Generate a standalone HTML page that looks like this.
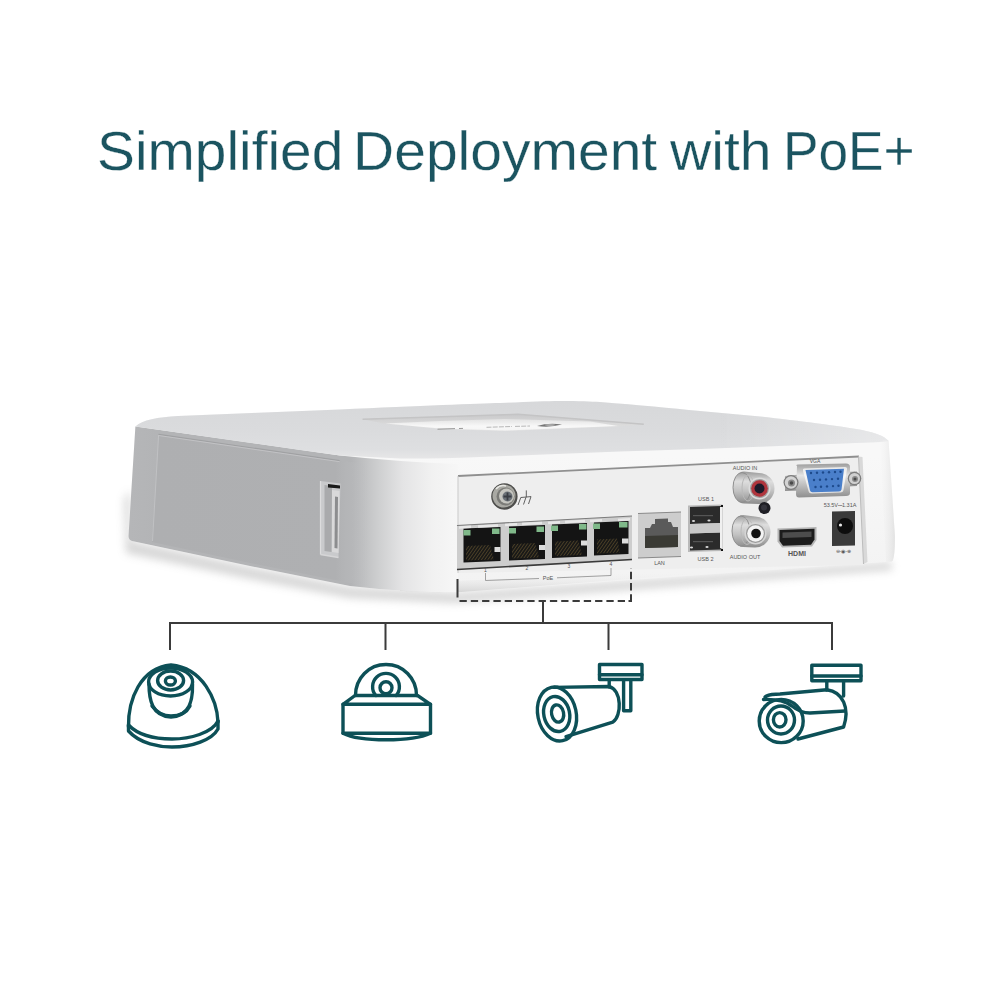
<!DOCTYPE html>
<html><head><meta charset="utf-8">
<style>
html,body{margin:0;padding:0;background:#fff;width:1000px;height:1000px;overflow:hidden}
#title{position:absolute;left:0;top:0;width:1000px;height:1000px}
.t{position:absolute;top:115.8px;font-family:"Liberation Sans",sans-serif;font-size:56.4px;color:#1b5460;white-space:nowrap;line-height:70px;transform-origin:0 0;-webkit-text-stroke:0.3px #ffffff}
svg{position:absolute;left:0;top:0}
</style></head><body>
<div class="t" style="left:97px;transform:scaleX(1.0076)">Simplified</div>
<div class="t" style="left:353.2px;transform:scaleX(1.011)">Deployment</div>
<div class="t" style="left:670px;transform:scaleX(1.0125)">with</div>
<div class="t" style="left:782.6px;transform:scaleX(0.944)">PoE+</div>
<svg width="1000" height="1000" viewBox="0 0 1000 1000">
<defs>
  <linearGradient id="gLeft" x1="130" y1="0" x2="460" y2="0" gradientUnits="userSpaceOnUse">
    <stop offset="0" stop-color="#b5b6b8"/>
    <stop offset="0.08" stop-color="#b3b4b6"/>
    <stop offset="0.67" stop-color="#b3b4b6"/>
    <stop offset="0.75" stop-color="#cdcecf"/>
    <stop offset="0.827" stop-color="#e4e4e5"/>
    <stop offset="0.915" stop-color="#f1f1f1"/>
    <stop offset="1" stop-color="#f7f7f7"/>
  </linearGradient>
  <linearGradient id="gTop" x1="0" y1="402" x2="0" y2="458" gradientUnits="userSpaceOnUse">
    <stop offset="0" stop-color="#d7d8da"/>
    <stop offset="0.5" stop-color="#dadbdd"/>
    <stop offset="0.85" stop-color="#dedfe1"/>
    <stop offset="1" stop-color="#e6e6e7"/>
  </linearGradient>
  <linearGradient id="gTopR" x1="720" y1="0" x2="890" y2="0" gradientUnits="userSpaceOnUse">
    <stop offset="0" stop-color="#ffffff" stop-opacity="0"/>
    <stop offset="1" stop-color="#ffffff" stop-opacity="0.35"/>
  </linearGradient>
  <linearGradient id="gBack" x1="0" y1="455" x2="0" y2="595" gradientUnits="userSpaceOnUse">
    <stop offset="0" stop-color="#f8f8f8"/>
    <stop offset="1" stop-color="#f2f2f2"/>
  </linearGradient>
  <linearGradient id="gBot" x1="0" y1="572" x2="0" y2="592" gradientUnits="userSpaceOnUse">
    <stop offset="0" stop-color="#f4f4f4" stop-opacity="0"/>
    <stop offset="1" stop-color="#d6d6d6"/>
  </linearGradient>
  <linearGradient id="gPanel" x1="158" y1="0" x2="380" y2="0" gradientUnits="userSpaceOnUse">
    <stop offset="0" stop-color="#aeafb1"/>
    <stop offset="0.8" stop-color="#afb0b2"/>
    <stop offset="0.95" stop-color="#c0c1c3" stop-opacity="0"/>
  </linearGradient>
  <linearGradient id="gRec" x1="0" y1="414" x2="0" y2="431" gradientUnits="userSpaceOnUse">
    <stop offset="0" stop-color="#c9c9ca"/>
    <stop offset="1" stop-color="#e4e4e4"/>
  </linearGradient>
  <linearGradient id="gRecW" x1="0" y1="419" x2="0" y2="431" gradientUnits="userSpaceOnUse">
    <stop offset="0" stop-color="#e2e2e2"/>
    <stop offset="0.6" stop-color="#f8f8f8"/>
    <stop offset="1" stop-color="#f4f4f4"/>
  </linearGradient>
  <pattern id="pins" width="2.6" height="6" patternUnits="userSpaceOnUse" patternTransform="rotate(35)">
    <rect width="2.6" height="6" fill="#1a1a18"/>
    <rect width="0.9" height="6" fill="#5e4f2e"/>
  </pattern>
  <linearGradient id="gMetal" x1="0" y1="0" x2="0" y2="1">
    <stop offset="0" stop-color="#9a9a9a"/>
    <stop offset="0.3" stop-color="#dedede"/>
    <stop offset="0.6" stop-color="#c2c2c2"/>
    <stop offset="1" stop-color="#8c8c8c"/>
  </linearGradient>
  <linearGradient id="gMetalV" x1="0" y1="0" x2="0" y2="1">
    <stop offset="0" stop-color="#9c9c9c"/>
    <stop offset="0.35" stop-color="#e4e4e4"/>
    <stop offset="1" stop-color="#8e8e8e"/>
  </linearGradient>
  <linearGradient id="gRight" x1="878" y1="0" x2="895" y2="0" gradientUnits="userSpaceOnUse">
    <stop offset="0" stop-color="#f7f7f7" stop-opacity="0"/>
    <stop offset="1" stop-color="#e2e2e2"/>
  </linearGradient>
  <filter id="blur1" x="-5%" y="-20%" width="110%" height="140%"><feGaussianBlur stdDeviation="1.2"/></filter>
  <filter id="blur05" x="-5%" y="-50%" width="110%" height="200%"><feGaussianBlur stdDeviation="0.6"/></filter>
  <filter id="blur4" x="-20%" y="-50%" width="140%" height="200%"><feGaussianBlur stdDeviation="4"/></filter>
</defs>
<!-- shadow -->
<path d="M130 490 L131 541 L250 567 L350 587 L455 593 L892 562 L892 570 L455 603 L350 598 L250 579 L126 553 L124 500 Z" fill="#9a9a9a" opacity="0.4" filter="url(#blur4)"/>
<!-- device silhouette -->
<path d="M135.4 426.4 C142 420 158 417 178 416 L340 409.4 C420 406 480 403.5 500 403 C530 402 545 401 560 401 C580 401 590 401.5 600 402 C640 405 670 408 700 411 L760 416.5 C800 421 840 426 862 430 C876 433 884 436 888.6 441 L894.9 536 Q895 558 892 561.5 L455 592.5 C425 592.5 390 590.5 350 586 L250 566 L132 541 Q128.5 540 128.5 536 Z" fill="url(#gBack)"/>
<!-- bottom rounded edge of back face -->
<path d="M455 581 L700 570 L892 559 L892 561.5 L700 573.5 L455 592.5 C425 592.5 410 591.5 400 591 L400 578 Z" fill="url(#gBot)"/>
<!-- left face -->
<path d="M135.4 426.4 L340 455.5 Q400 462 458 464 L458 592.5 L455 592.5 C425 592.5 390 590.5 350 586 L250 566 L132 541 Q128.5 540 128.5 536 Z" fill="url(#gLeft)"/>
<!-- left face inner panel -->
<path d="M158.6 434.4 L339.6 460.6 L380 466 L380 587 L350 583 L250 563 L152 542 Z" fill="url(#gPanel)"/>
<path d="M158.6 434.4 L339.6 460.6" stroke="#a0a1a3" stroke-width="1.2" fill="none"/>
<path d="M158.6 435.5 L339.6 461.7" stroke="#c6c7c9" stroke-width="0.8" fill="none"/>
<path d="M158.6 435 L152.5 541" stroke="#c0c1c3" stroke-width="1" fill="none"/>
<!-- slot -->
<path d="M320.5 481 L340.5 483.5 L338.5 557.5 L320.5 554.5 Z" fill="#c9cacc"/>
<path d="M324.5 485 L332 486 L331.5 552 L324.5 551 Z" fill="#a9aaac"/>
<path d="M328 484 L340 485.5 L340 488.5 L328 487.5 Z" fill="#1a1a1a"/>
<path d="M332 490 L339.5 491 L338.5 553 L332 552 Z" fill="#d9d9da"/>
<path d="M335 496.5 L338 497 L337.5 548.5 L334.5 548 Z" fill="#8c8d8f"/>
<path d="M320.5 481 L320.5 554.5" stroke="#dcdcdd" stroke-width="1.2"/>
<path d="M320.5 554.5 L338.5 557.5" stroke="#d6d6d7" stroke-width="1.5"/>
<!-- top face -->
<path d="M135.4 426.4 C142 420 158 417 178 416 L340 409.4 C420 406 480 403.5 500 403 C530 402 545 401 560 401 C580 401 590 401.5 600 402 C640 405 670 408 700 411 L760 416.5 C800 421 840 426 862 430 C876 433 884 436 888.6 441 L880 442 L700 449 L620 451.5 L480 457 Q430 459 400 458.5 L340 455.5 L300 450 Z" fill="url(#gTop)" filter="url(#blur05)"/>
<path d="M135.4 426.4 C142 420 158 417 178 416 L340 409.4 C420 406 480 403.5 500 403 C530 402 545 401 560 401 C580 401 590 401.5 600 402 C640 405 670 408 700 411 L760 416.5 C800 421 840 426 862 430 C876 433 884 436 888.6 441 L880 442 L700 449 L620 451.5 L480 457 Q430 459 400 458.5 L340 455.5 L300 450 Z" fill="url(#gTopR)" filter="url(#blur05)"/>
<!-- top recess -->
<path d="M362.5 419.3 L518 414.3 L643.8 424.2 L618 426.5 L505 431 L440 429 L383.5 423.5 Z" fill="url(#gRec)" filter="url(#blur05)"/>
<path d="M362.5 419.3 L518 414.3 L643.8 424.2" stroke="#c4c4c5" stroke-width="1.5" fill="none" filter="url(#blur05)"/>
<path d="M385 423.5 L440 421 L505 419 L590 421.5 L618 426 L505 430.5 L440 428.5 Z" fill="url(#gRecW)" filter="url(#blur05)"/>
<path d="M437.5 429.2 L455 428.6 M459 428.5 L463 428.4" stroke="#8e8e8e" stroke-width="0.9"/>
<path d="M486.5 427.3 L512 426.5 M515 426.4 L530 426" stroke="#a6a6a6" stroke-width="0.8" stroke-dasharray="5 1.2"/>
<path d="M537 426 Q548 422.5 562 424.5 Q550 427.8 537 426 Z" fill="#777777"/>
<ellipse cx="550" cy="425" rx="5" ry="1" fill="#a8a8a8"/>
<!-- back panel recess -->
<path d="M458 476 L859 456.5 L864 565 L458 573 Z" fill="#eeeeee"/>
<path d="M458 476 L859 456.5" stroke="#8f8f8f" stroke-width="1.8" fill="none"/>
<path d="M458 476 L458 573" stroke="#c9c9c9" stroke-width="1" fill="none"/>
<path d="M858.5 456.5 L862.5 457 L867.5 562 L863.5 564 Z" fill="#d9d9d9"/>
<path d="M858.5 456.5 L863.5 564" stroke="#bdbdbd" stroke-width="1" fill="none"/>
<path d="M880 441 Q886 439 888.6 441 L894.9 536 Q895 558 892 561.5 L886 562 Z" fill="url(#gRight)"/>
<!-- ground screw -->
<circle cx="504.4" cy="496.5" r="13.8" fill="#f4f4f4"/>
<circle cx="504.4" cy="496.5" r="13.2" fill="#4e4e4c"/>
<circle cx="504" cy="496" r="11.5" fill="#a9a9a3"/>
<circle cx="505.5" cy="496.5" r="9" fill="#7b7b77"/>
<circle cx="506.5" cy="496" r="7.5" fill="#c6c6c0"/>
<circle cx="507.5" cy="496.5" r="5" fill="#6c7278"/>
<path d="M503.5 496.5 L511.5 496.5 M507.5 492.5 L507.5 500.5" stroke="#3a3e44" stroke-width="1.8"/>
<path d="M496 489 A10 10 0 0 1 506 486" stroke="#e8e8e4" stroke-width="1.5" fill="none"/>
<path d="M526.3 490.4 L526.3 497 M520.8 497.5 L531 496.6 M520.8 497.5 L518 505 M526 497.2 L523.5 504.5 M531 496.6 L528.5 504" stroke="#505050" stroke-width="0.9" fill="none"/>
<!-- PoE port block -->
<path d="M457 525.5 L632 516 L632 560 L457 569.5 Z" fill="#cdcdcd"/>
<path d="M457 525.5 L632 516" stroke="#7c7c7c" stroke-width="1.2"/>
<path d="M457 569.5 L632 559.5" stroke="#3a3a3a" stroke-width="1.6"/>
<g fill="#141414">
<path d="M463.5 528.5 L500.5 527 L500.5 561 L463.5 562.5 Z"/>
<path d="M509 526.5 L545 525 L545 559 L509 560.5 Z"/>
<path d="M552 524.5 L587 523 L587 556.5 L552 558 Z"/>
<path d="M594 522.5 L628.5 521 L628.5 554 L594 555.5 Z"/>
</g>
<g fill="url(#pins)" opacity="0.75">
<path d="M466 546 L490 545 L494 559.5 L466 560.5 Z"/>
<path d="M512 544 L535 543 L539 557.5 L512 558.5 Z"/>
<path d="M555 541.5 L578 540.5 L582 555 L555 556 Z"/>
<path d="M597 539.5 L617 538.5 L620 552.5 L597 553.5 Z"/>
</g>
<g fill="#e8e8e8">
<rect x="459" y="526.2" width="12" height="2.5" transform="rotate(-3 459 526.2)"/><rect x="478" y="525.2" width="20" height="2.5" transform="rotate(-3 478 525.2)"/>
<rect x="505" y="523.7" width="12" height="2.5" transform="rotate(-3 505 523.7)"/><rect x="522" y="522.7" width="20" height="2.5" transform="rotate(-3 522 522.7)"/>
<rect x="548" y="521.7" width="12" height="2.5" transform="rotate(-3 548 521.7)"/><rect x="565" y="520.7" width="20" height="2.5" transform="rotate(-3 565 520.7)"/>
<rect x="590" y="519.7" width="12" height="2.5" transform="rotate(-3 590 519.7)"/><rect x="618" y="518.7" width="12" height="2.5" transform="rotate(-3 618 518.7)"/>
</g>
<g fill="#80b98a">
<rect x="463.5" y="530" width="7" height="5.5"/><rect x="492" y="528.5" width="7.5" height="5.5"/>
<rect x="509" y="528" width="7" height="5.5"/><rect x="536.5" y="526.5" width="7.5" height="5.5"/>
<rect x="551" y="525.5" width="7" height="5.5"/><rect x="579" y="524" width="7.5" height="5.5"/>
<rect x="593" y="523.5" width="7" height="5.5"/><rect x="619" y="522" width="8.5" height="5.5"/>
</g>
<g fill="#dcdcdc">
<rect x="494.5" y="547" width="6" height="5"/><rect x="539" y="545" width="6" height="5"/>
<rect x="581" y="540.5" width="6" height="5"/><rect x="622" y="538.5" width="6.5" height="5"/>
</g>
<!-- LAN port -->
<path d="M638 513.5 L681 512 L681 556.5 L638 558 Z" fill="#cdcdcd"/>
<path d="M638 513.5 L681 512 M638 558 L681 556.5" stroke="#8a8a8a" stroke-width="1"/>
<path d="M645 548 L645 528 L650 528 L652 524 L655 524 L655 519 L668 518.5 L668 522 L671 522 L673 527 L678 527 L678 547 Z" fill="#5a5a5a"/>
<path d="M645 548 L645 536 L678 535 L678 547 Z" fill="#3a3a34"/>
<!-- USB -->
<path d="M688 505.5 L722.5 504.5 L722.5 551 L688 552 Z" fill="#b9b9b9"/>
<path d="M690 507 L721 506 L721 523 L690 524 Z" fill="#2b2b2b"/>
<path d="M690 533.5 L721 532.5 L721 549.5 L690 550.5 Z" fill="#2b2b2b"/>
<path d="M690 524 L721 523 L721 532.5 L690 533.5 Z" fill="#c8c8c8"/>
<path d="M720 507 L722 506.8 L722 548 L720 548.2 Z" fill="#f0f0f0"/>
<rect x="721" y="505" width="2" height="2" fill="#111"/><rect x="721" y="549" width="2" height="2" fill="#111"/>
<g fill="#d8d8d8"><ellipse cx="693.5" cy="521" rx="1.6" ry="1"/><ellipse cx="709" cy="520.5" rx="1.6" ry="1"/><ellipse cx="691.5" cy="547.5" rx="1.6" ry="1"/><ellipse cx="707" cy="547" rx="1.6" ry="1"/></g>
<g fill="#555"><rect x="693" y="515" width="20" height="1.2"/><rect x="693" y="541" width="20" height="1.2"/></g>
<!-- Audio in -->
<path d="M744 471.5 L759 473 A15.5 15.5 0 0 1 759 504 L744 503.5 A11 16 0 0 1 744 471.5 Z" fill="url(#gMetal)"/>
<ellipse cx="742" cy="487.5" rx="9" ry="15" fill="none" stroke="#8e8e8e" stroke-width="1"/>
<ellipse cx="748" cy="488" rx="6" ry="13" fill="none" stroke="#b9b9b9" stroke-width="1"/>
<circle cx="759.5" cy="488.5" r="11" fill="#dcdcdc"/>
<circle cx="759.5" cy="488.5" r="9.5" fill="#9f9f9f"/>
<circle cx="759.5" cy="488.5" r="8.3" fill="#b0353d"/>
<circle cx="759.5" cy="488.5" r="5" fill="#1d1b2a"/>
<!-- knob -->
<circle cx="764.5" cy="508" r="6" fill="#1e1e24"/>
<circle cx="764" cy="507.5" r="3" fill="#34343c"/>
<!-- Audio out -->
<path d="M743 515 L755 516.5 A15.5 15.5 0 0 1 755 547.5 L743 547 A11 16 0 0 1 743 515 Z" fill="url(#gMetal)"/>
<ellipse cx="741" cy="531" rx="9" ry="15" fill="none" stroke="#8e8e8e" stroke-width="1"/>
<ellipse cx="747" cy="531.5" rx="6" ry="13" fill="none" stroke="#b9b9b9" stroke-width="1"/>
<circle cx="755.5" cy="533.5" r="11" fill="#d5d5d5"/>
<circle cx="755.5" cy="533.5" r="9.5" fill="#9a9a9a"/>
<circle cx="755.5" cy="533.5" r="8.3" fill="#f4f4f4"/>
<circle cx="756" cy="533.5" r="4.8" fill="#141414"/>
<!-- VGA -->
<path d="M785 476 L800 474.5 L800 490.5 L785 491 Z" fill="url(#gMetalV)"/>
<path d="M846 472 L857 471.5 L857 486 L846 486.5 Z" fill="url(#gMetalV)"/>
<path d="M797 466 Q795 465 798 464.5 L846 463.5 Q850 463.5 850 467 L850 493 Q850 496 846 496 L799 497.5 Q796 497.5 796 494 Z" fill="url(#gMetalV)"/>
<path d="M804 468.5 L845 467 Q847.5 467 847 469.5 L843.5 490 Q843 492.5 840 492.5 L812 493.5 Q809 493.5 808.5 491 L803 471 Q802.5 468.5 804 468.5 Z" fill="#ffffff" opacity="0.7"/>
<path d="M805.5 470 L844 468.8 L841.5 489.5 Q841 491.5 839 491.5 L812.5 492.3 Q810.5 492.3 810 490.5 Z" fill="#4a7fca"/>
<circle cx="791" cy="482.5" r="7.5" fill="#7c7c7c"/>
<circle cx="791" cy="482.5" r="6.2" fill="#d4d4d4"/>
<circle cx="791.5" cy="483" r="3.5" fill="#8a8a8a"/>
<circle cx="791.5" cy="483" r="1.8" fill="#4a4a4a"/>
<circle cx="854.5" cy="478.5" r="6.8" fill="#7c7c7c"/>
<circle cx="854.5" cy="478.5" r="5.5" fill="#d0d0d0"/>
<circle cx="855" cy="479" r="3" fill="#8a8a8a"/>
<circle cx="855" cy="479" r="1.5" fill="#4a4a4a"/>
<g fill="#1d4a8c">
<circle cx="811" cy="473" r="1.2"/><circle cx="817" cy="472.7" r="1.2"/><circle cx="823" cy="472.5" r="1.2"/><circle cx="829" cy="472.2" r="1.2"/><circle cx="835" cy="472" r="1.2"/><circle cx="840.5" cy="471.8" r="1.2"/>
<circle cx="814" cy="480" r="1.2"/><circle cx="820" cy="479.7" r="1.2"/><circle cx="826" cy="479.4" r="1.2"/><circle cx="832" cy="479.1" r="1.2"/><circle cx="838" cy="478.8" r="1.2"/>
<circle cx="815.5" cy="487" r="1.2"/><circle cx="821" cy="486.7" r="1.2"/><circle cx="827" cy="486.4" r="1.2"/><circle cx="833" cy="486.1" r="1.2"/><circle cx="838.5" cy="485.8" r="1.2"/>
</g>
<!-- DC jack -->
<path d="M832 511.5 L855 511 L855 545.5 L832 546 Z" fill="#3a3a3a"/>
<circle cx="845" cy="526" r="8" fill="#0d0d0d"/>
<circle cx="840.5" cy="525" r="1.6" fill="#e8e8e8"/>
<!-- HDMI -->
<path d="M777.5 528.5 L816.5 527 L816.5 540 L812 546.5 L782 547.5 L777.5 541.5 Z" fill="#b4b4b4"/>
<path d="M779.5 530 L814.5 528.8 L814.5 539.5 L811 544.8 L783 545.8 L779.5 541 Z" fill="#1c1c1c"/>
<path d="M782.5 532.5 L811.5 531.5 L811.5 537 L782.5 538 Z" fill="#4d4d4d"/>
<!-- labels -->
<g font-family="Liberation Sans, sans-serif" fill="#555555" text-anchor="middle">
<text x="745" y="470" font-size="5.5">AUDIO IN</text>
<text x="745" y="558.5" font-size="5.5">AUDIO OUT</text>
<text x="815" y="462.5" font-size="5">VGA</text>
<text x="706" y="501" font-size="5.5">USB 1</text>
<text x="705.5" y="561" font-size="5.5">USB 2</text>
<text x="659.5" y="564.5" font-size="5.5">LAN</text>
<text x="840" y="506.5" font-size="5.5">53.5V⎓1.31A</text>
<text x="843.5" y="553" font-size="5">⊖-◉-⊕</text>
<text x="797" y="556" font-size="7" font-weight="bold" fill="#555">HDMI</text>
<text x="485.5" y="572" font-size="5">1</text>
<text x="527" y="570" font-size="5">2</text>
<text x="569" y="568" font-size="5">3</text>
<text x="611" y="566" font-size="5">4</text>
<text x="548" y="579.5" font-size="5.5">PoE</text>
</g>
<path d="M485.5 573 L485.5 580.5 L539 578.5 M557 577.8 L611 575.5 L611 568" stroke="#8a8a8a" stroke-width="0.8" fill="none"/>

<!-- connection lines -->
<g stroke="#3b3b3b" stroke-width="2" fill="none">
<path d="M457.5 579 L457.5 597.5"/>
<path d="M459.5 601 L627 601" stroke-dasharray="7.3 4"/>
<path d="M628.5 601 L631 601 L631 594.3"/>
<path d="M631 590.4 L631 568" stroke-dasharray="7.5 3.6"/>
<path d="M543 600.5 L543 623 M170 623 L832 623 M170 622 L170 650 M385.5 622 L385.5 650 M608.5 622 L608.5 650 M832 622 L832 650"/>
</g>
<!-- icons -->
<g stroke="#0d5057" stroke-width="3.4" fill="none" stroke-linecap="round" stroke-linejoin="round">
<!-- icon1 turret -->
<path d="M128.5 727 C128 700 140 668 171 665 C203 668 217 700 218 722"/>
<path d="M128.5 725 C140 737 160 739 172 739 C190 739 212 733 218 721"/>
<path d="M128.5 725 L128.5 731 C140 744 160 747 172 747 C192 747 212 740 218 729 L218 721"/>
<ellipse cx="170.6" cy="682" rx="22" ry="14"/>
<ellipse cx="170.6" cy="680.5" rx="13" ry="9.5"/>
<ellipse cx="170.4" cy="681" rx="5" ry="4"/>
<path d="M149 684 C149 700 152 716 171 717 C190 716 193 700 192.5 684"/>
<path d="M152 706 C158 714 165 716 171 716 C180 716 187 712 190 706"/>
<!-- icon2 dome -->
<path d="M355.5 695.5 C355.5 678 369 664.5 386 664.5 C403 664.5 416.5 678 416.5 695.5"/>
<path d="M375.8 695.5 A13.4 13.4 0 1 1 396.2 695.5"/>
<circle cx="386" cy="687.8" r="6"/>
<path d="M355 695.5 L417.5 695.5 L430.5 704.3 L343 704.3 Z"/>
<path d="M343 704.3 L343 733.2 L430.5 733.2 L430.5 704.3"/>
<path d="M343 733.2 C360 742 412 742 430.5 733.2"/>
<!-- icon3 bullet -->
<rect x="599.5" y="664.5" width="42.5" height="15"/>
<path d="M599.5 674.8 L642 674.8"/>
<path d="M609.2 679.6 L609.2 687 M623.6 679.6 L623.6 710.8 L630.8 710.8 L630.8 679.6"/>
<path d="M554 687.4 L609 686.5 C622 690 622 716 612.8 722.2 L566 736.6"/>
<ellipse cx="557" cy="714" rx="19.2" ry="27.3" transform="rotate(-12 557 714)"/>
<ellipse cx="556.7" cy="714" rx="12.9" ry="17.7" transform="rotate(-12 556.7 714)"/>
<ellipse cx="557.6" cy="713.5" rx="6" ry="8.7" transform="rotate(-12 557.6 713.5)"/>
<!-- icon4 bullet -->
<rect x="811.8" y="665.2" width="49.2" height="15.6"/>
<path d="M811.8 676 L861 676"/>
<path d="M826.8 680.8 L826.8 690 M843.6 680.8 L843.6 696"/>
<path d="M765 697 C768 694 772 694.5 780 694 L826.8 689.8 C843 692 850 708 843.6 727 L798 739"/>
<path d="M763.5 699.5 C775 699 785 701 792 706 C798 711 803 713 810 713 L845 711"/>
<ellipse cx="781.2" cy="721" rx="22" ry="21.6"/>
<ellipse cx="781" cy="720" rx="13.5" ry="14"/>
<ellipse cx="779.7" cy="719.8" rx="6.3" ry="7.2"/>
</g>
</svg>
</body></html>
